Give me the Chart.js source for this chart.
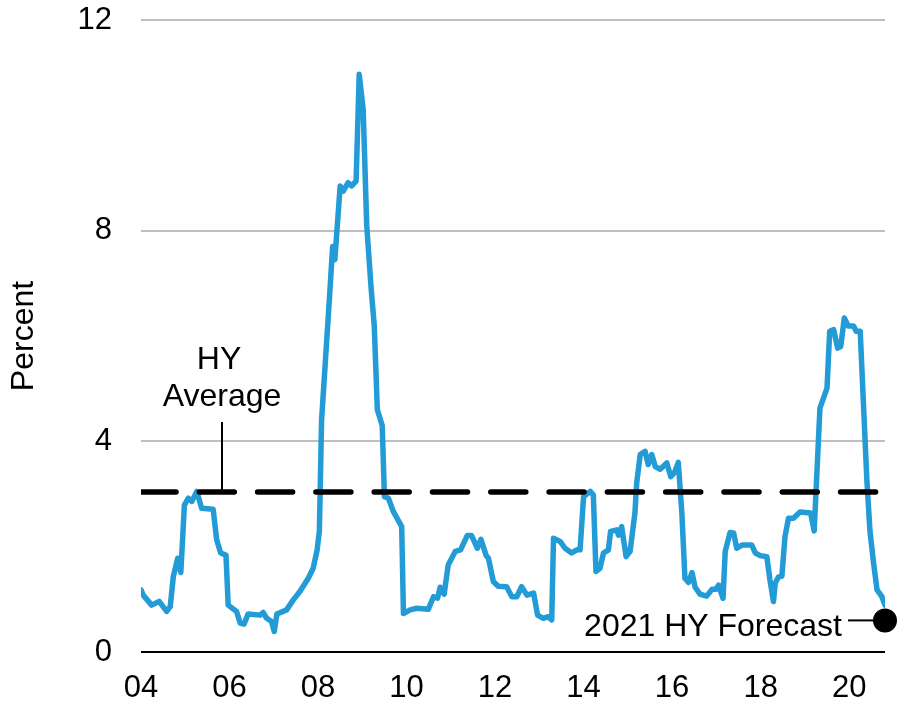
<!DOCTYPE html>
<html>
<head>
<meta charset="utf-8">
<title>HY Default Rate</title>
<script src="https://cdn.jsdelivr.net/npm/chart.js@4.4.1/dist/chart.umd.min.js"></script>
<style>
    body { margin: 0; background: #ffffff; }
    #wrap { width: 897px; height: 706px; position: relative; }
</style>
</head>
<body>
<div id="wrap"><canvas id="hyChart"></canvas></div>
<script>
// HY default rate, percent (decimal years on x)
const hyDates = [
    2004.00, 2004.05, 2004.24, 2004.41, 2004.58, 2004.66, 2004.73, 2004.83, 2004.90, 2004.98,
    2005.07, 2005.15, 2005.26, 2005.37, 2005.63, 2005.71, 2005.80, 2005.92, 2005.97, 2006.16,
    2006.24, 2006.33, 2006.42, 2006.69, 2006.76, 2006.84, 2006.95, 2007.01, 2007.07, 2007.29,
    2007.44, 2007.59, 2007.78, 2007.89, 2007.98, 2008.03, 2008.08, 2008.27, 2008.33, 2008.38,
    2008.50, 2008.57, 2008.68, 2008.76, 2008.86, 2008.93, 2009.02, 2009.10, 2009.20, 2009.27,
    2009.34, 2009.45, 2009.50, 2009.59, 2009.70, 2009.89, 2009.93, 2010.08, 2010.23, 2010.49,
    2010.61, 2010.70, 2010.76, 2010.85, 2010.94, 2011.10, 2011.22, 2011.37, 2011.47, 2011.60,
    2011.68, 2011.80, 2011.85, 2011.96, 2012.07, 2012.26, 2012.38, 2012.49, 2012.60, 2012.72,
    2012.87, 2012.96, 2013.09, 2013.20, 2013.28, 2013.32, 2013.47, 2013.58, 2013.73, 2013.85,
    2013.92, 2014.00, 2014.15, 2014.22, 2014.28, 2014.37, 2014.45, 2014.56, 2014.61, 2014.75,
    2014.79, 2014.86, 2014.96, 2015.05, 2015.16, 2015.20, 2015.28, 2015.39, 2015.46, 2015.54,
    2015.62, 2015.73, 2015.88, 2015.97, 2016.05, 2016.14, 2016.22, 2016.29, 2016.37, 2016.45,
    2016.52, 2016.63, 2016.78, 2016.90, 2016.99, 2017.05, 2017.15, 2017.20, 2017.31, 2017.39,
    2017.46, 2017.58, 2017.80, 2017.88, 2017.99, 2018.14, 2018.21, 2018.29, 2018.33, 2018.40,
    2018.48, 2018.55, 2018.63, 2018.74, 2018.89, 2019.13, 2019.21, 2019.34, 2019.50, 2019.56,
    2019.65, 2019.74, 2019.81, 2019.89, 2019.98, 2020.10, 2020.16, 2020.25, 2020.40, 2020.47,
    2020.55, 2020.63, 2020.74, 2020.81
];
const hyRates = [
    1.18, 1.08, 0.89, 0.96, 0.77, 0.86, 1.43, 1.78, 1.51, 2.79,
    2.92, 2.86, 3.05, 2.73, 2.71, 2.13, 1.88, 1.84, 0.89, 0.77,
    0.55, 0.53, 0.72, 0.70, 0.75, 0.64, 0.58, 0.39, 0.72, 0.80,
    0.99, 1.15, 1.40, 1.59, 1.94, 2.30, 4.40, 6.88, 7.70, 7.45,
    8.85, 8.75, 8.91, 8.85, 8.94, 10.97, 10.30, 8.10, 6.90, 6.20,
    4.60, 4.30, 2.95, 2.92, 2.67, 2.38, 0.73, 0.80, 0.83, 0.81,
    1.05, 1.02, 1.23, 1.10, 1.65, 1.91, 1.94, 2.21, 2.21, 1.97,
    2.14, 1.83, 1.78, 1.34, 1.25, 1.24, 1.05, 1.05, 1.24, 1.08,
    1.12, 0.70, 0.64, 0.67, 0.61, 2.16, 2.10, 1.97, 1.88, 1.94,
    1.94, 2.95, 3.05, 2.98, 1.53, 1.59, 1.88, 1.94, 2.29, 2.32,
    2.22, 2.38, 1.81, 1.91, 2.64, 3.21, 3.75, 3.81, 3.56, 3.75,
    3.52, 3.47, 3.59, 3.33, 3.40, 3.60, 2.64, 1.40, 1.32, 1.51,
    1.23, 1.10, 1.06, 1.19, 1.19, 1.27, 1.02, 1.91, 2.27, 2.26,
    1.97, 2.03, 2.03, 1.88, 1.83, 1.81, 1.37, 0.96, 1.31, 1.42,
    1.44, 2.19, 2.54, 2.54, 2.66, 2.64, 2.30, 4.63, 5.01, 6.09,
    6.12, 5.77, 5.80, 6.34, 6.19, 6.19, 6.09, 6.09, 3.27, 2.30,
    1.70, 1.18, 1.05, 0.89
];

// long-run HY average and 2021 forecast
const hyAverage = 3.04;
const forecastDate = 2020.81;
const forecastValue = 0.6;

const xMin = 2004;
const xMax = 2020.81;
const xTicks = [2004, 2006, 2008, 2010, 2012, 2014, 2016, 2018, 2020];
const yTicks = [0, 4, 8, 12];

const FONT = "'Liberation Sans', Arial, sans-serif";

document.addEventListener('DOMContentLoaded', function() {
    // text labels with leader lines
    const annotations = {
        id: 'annotations',
        afterDatasetsDraw(chart) {
            const c = chart.ctx;
            const x = chart.scales.x;
            const y = chart.scales.y;
            c.save();
            c.fillStyle = '#000';
            c.strokeStyle = '#000';
            c.lineWidth = 2;
            c.font = '32px ' + FONT;
            c.textBaseline = 'alphabetic';

            // HY Average
            const ax = x.getPixelForValue(2005.83);
            c.beginPath();
            c.moveTo(ax, y.getPixelForValue(hyAverage));
            c.lineTo(ax, 422);
            c.stroke();
            c.textAlign = 'center';
            c.fillText('HY', ax - 3, 369);
            c.fillText('Average', ax, 406);

            // 2021 HY Forecast
            const fx = x.getPixelForValue(forecastDate);
            const fy = y.getPixelForValue(forecastValue);
            c.beginPath();
            c.moveTo(fx - 37, fy);
            c.lineTo(fx - 10, fy);
            c.stroke();
            c.textAlign = 'right';
            c.fillText('2021 HY Forecast', fx - 43, fy + 16);
            c.restore();
        }
    };

    var ctx = document.getElementById('hyChart').getContext('2d');
    var hyChart = new Chart(ctx, {
        type: 'line',
        data: {
            datasets: [{
                label: '2021 HY Forecast',
                data: [{ x: forecastDate, y: forecastValue }],
                showLine: false,
                pointRadius: 12,
                pointBackgroundColor: '#000',
                pointBorderWidth: 0,
                clip: false
            }, {
                label: 'HY Average',
                data: [{ x: xMin, y: hyAverage }, { x: xMax, y: hyAverage }],
                borderColor: '#000',
                borderWidth: 5.5,
                borderDash: [35, 23.3],
                borderCapStyle: 'round',
                pointRadius: 0
            }, {
                label: 'HY default rate',
                data: hyDates.map((d, i) => ({ x: d, y: hyRates[i] })),
                borderColor: '#229bd6',
                borderWidth: 5.5,
                borderJoinStyle: 'round',
                borderCapStyle: 'round',
                pointRadius: 0,
                tension: 0
            }]
        },
        options: {
            responsive: true,
            maintainAspectRatio: false,
            animation: false,
            layout: { padding: { top: 20, right: 12, left: 0, bottom: 0 } },
            plugins: {
                legend: { display: false },
                tooltip: { enabled: false }
            },
            scales: {
                x: {
                    type: 'linear',
                    min: xMin,
                    max: xMax,
                    afterBuildTicks: function(scale) {
                        scale.ticks = xTicks.map(v => ({ value: v }));
                    },
                    afterFit: function(scale) {
                        scale.height = 54;
                        scale.paddingLeft = 0;
                        scale.paddingRight = 0;
                    },
                    grid: { display: false, drawTicks: false },
                    border: { display: false },
                    ticks: {
                        padding: 18,
                        color: '#000',
                        font: { family: FONT, size: 31 },
                        maxRotation: 0,
                        autoSkip: false,
                        callback: function(value) {
                            return String(value % 100).padStart(2, '0');
                        }
                    }
                },
                y: {
                    min: 0,
                    max: 12,
                    afterBuildTicks: function(scale) {
                        scale.ticks = yTicks.map(v => ({ value: v }));
                    },
                    afterFit: function(scale) {
                        scale.width = 141;
                        scale.paddingTop = 0;
                        scale.paddingBottom = 0;
                    },
                    border: { display: false },
                    grid: {
                        drawTicks: false,
                        lineWidth: 2,
                        color: function(c) {
                            return c.tick && c.tick.value === 0 ? '#000' : '#bfbfbf';
                        }
                    },
                    ticks: {
                        padding: 29,
                        color: '#000',
                        font: { family: FONT, size: 31 }
                    },
                    title: {
                        display: true,
                        text: 'Percent',
                        color: '#000',
                        font: { family: FONT, size: 32 },
                        padding: { top: 5, bottom: 0 }
                    }
                }
            }
        },
        plugins: [annotations]
    });
});
</script>
</body>
</html>
